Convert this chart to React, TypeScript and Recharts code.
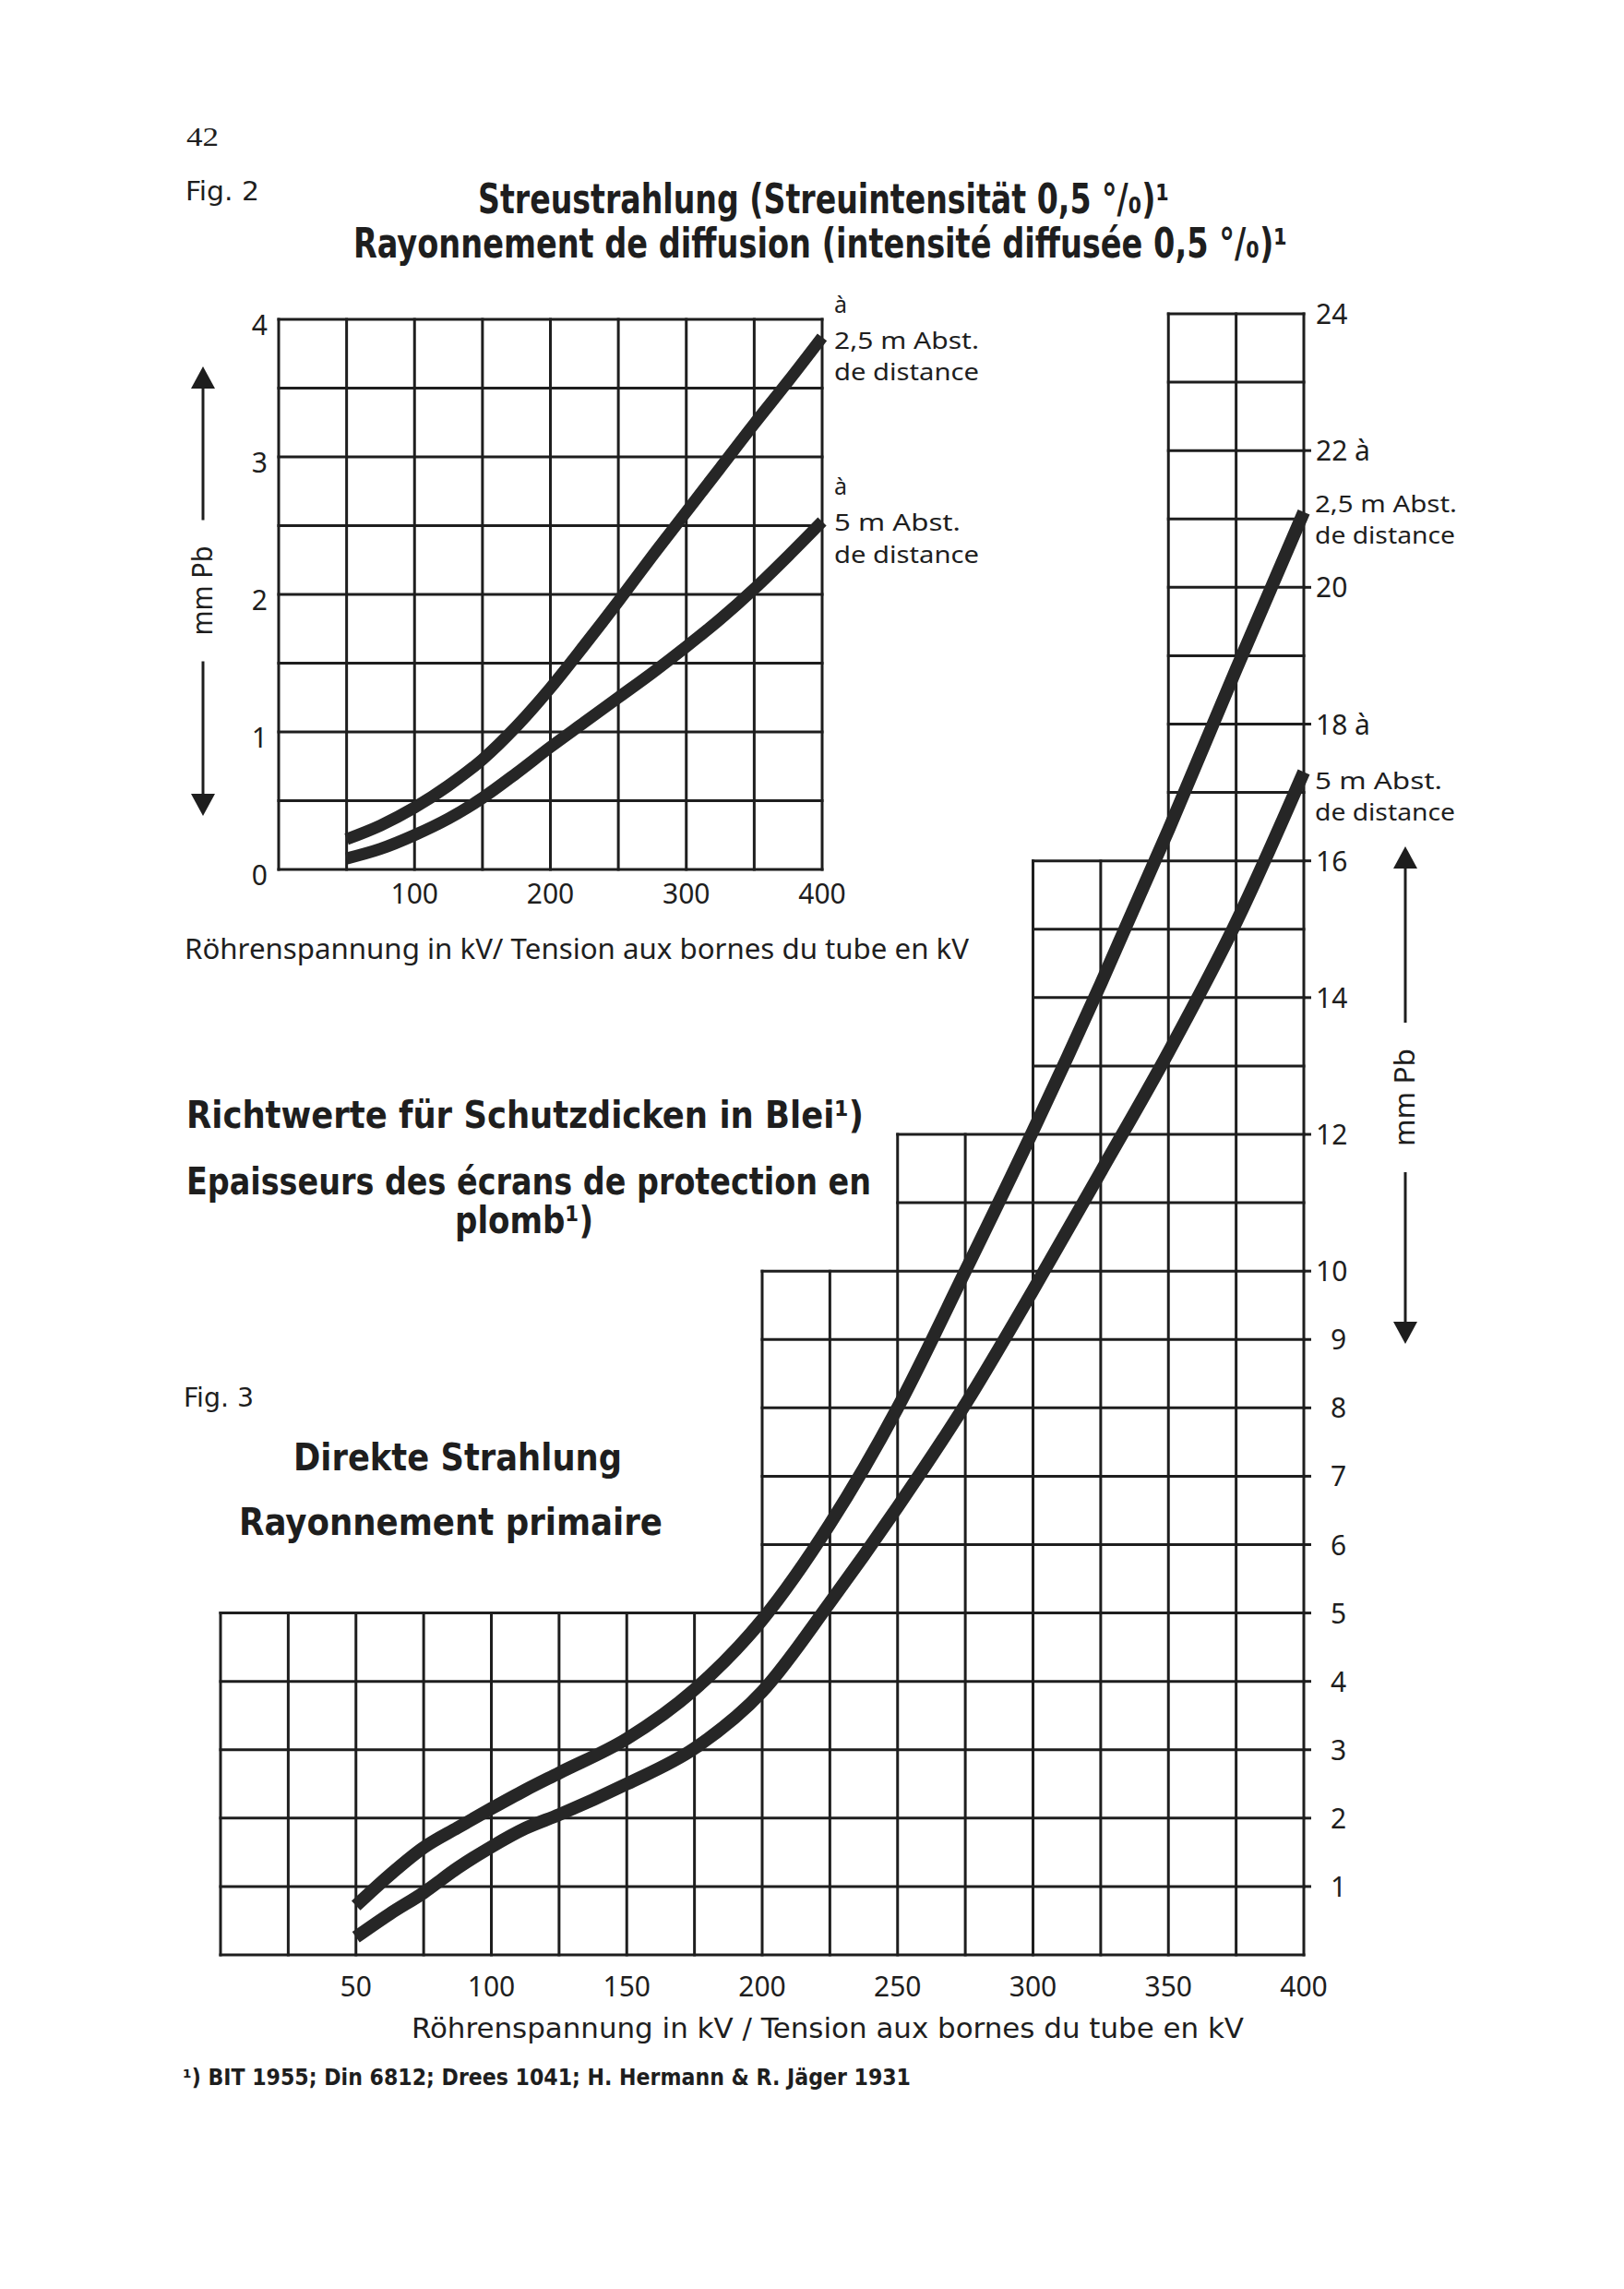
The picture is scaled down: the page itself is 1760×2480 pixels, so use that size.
import { Line, LineChart, ReferenceLine, XAxis, YAxis } from "recharts";

const INK = "#1e1e1e";
const CURVE = "#262626";
const SANS = "'Noto Sans', 'DejaVu Sans', sans-serif";
const HEAD = "'DejaVu Sans Condensed', 'Liberation Sans Narrow', 'DejaVu Sans', sans-serif";

// Fig. 2 – Streustrahlung (scattered radiation), mm Pb vs kV
const scatterKv = [50, 75, 100, 125, 150, 175, 200, 225, 250, 275, 300, 325, 350, 375, 400];
const scatterAt25m = [0.22, 0.32, 0.45, 0.61, 0.8, 1.04, 1.32, 1.63, 1.95, 2.28, 2.6, 2.92, 3.24, 3.55, 3.87];
const scatterAt5m = [0.08, 0.15, 0.25, 0.37, 0.52, 0.7, 0.89, 1.07, 1.25, 1.43, 1.62, 1.82, 2.04, 2.28, 2.53];
const scatterXTicks = [100, 200, 300, 400];
const scatterYTicks = [0, 1, 2, 3, 4];
const scatterGridX = [0, 50, 100, 150, 200, 250, 300, 350, 400];
const scatterGridY = [0, 0.5, 1, 1.5, 2, 2.5, 3, 3.5, 4];

// Fig. 3 – Direkte Strahlung (primary radiation)
const directKv = [50, 62.5, 75, 87.5, 100, 112.5, 125, 150, 175, 200, 225, 250, 275, 300, 325, 350, 375, 400];
const directAt25m = [0.72, 1.17, 1.57, 1.86, 2.14, 2.41, 2.66, 3.16, 3.88, 4.9, 6.3, 8.0, 10.0, 12.05, 14.2, 16.45, 18.8, 21.1];
const directAt5m = [0.26, 0.6, 0.91, 1.27, 1.58, 1.85, 2.05, 2.5, 3.02, 3.85, 5.15, 6.55, 8.05, 9.72, 11.45, 13.2, 15.1, 17.3];
const directXTicks = [50, 100, 150, 200, 250, 300, 350, 400];
const directYTicks = [1, 2, 3, 4, 5, 6, 7, 8, 9, 10, 12, 14, 16, 18, 20, 22, 24];
// the grid is stepped: from each kV value on, it reaches up to "top" mm Pb
const directSteps = [
  { from: 0, top: 5 },
  { from: 200, top: 10 },
  { from: 250, top: 12 },
  { from: 300, top: 16 },
  { from: 350, top: 24 },
];
const directGridX = Array.from({ length: 17 }, (_, i) => i * 25);
const directGridY = Array.from({ length: 25 }, (_, i) => i);

const scatterRows = scatterKv.map((kv, i) => ({ kv, at25m: scatterAt25m[i], at5m: scatterAt5m[i] }));
const directRows = directKv.map((kv, i) => ({ kv, at25m: directAt25m[i], at5m: directAt5m[i] }));

const stepTop = (x: number) => Math.max(...directSteps.filter((s) => s.from <= x).map((s) => s.top));
const stepLeft = (y: number) => Math.min(...directSteps.filter((s) => s.top >= y).map((s) => s.from));

const grid = { stroke: INK, strokeWidth: 3, strokeLinecap: "square" as const };

function ScatterXTick({ x, y, payload }: any) {
  return (
    <text x={x} y={y + 37} textAnchor="middle" fontFamily={SANS} fontSize={30} fill={INK}>
      {payload.value}
    </text>
  );
}

function ScatterYTick({ x, y, payload }: any) {
  return (
    <text x={x - 12} y={y + 17} textAnchor="end" fontFamily={SANS} fontSize={30} fill={INK}>
      {payload.value}
    </text>
  );
}

function DirectXTick({ x, y, payload }: any) {
  return (
    <text x={x} y={y + 45} textAnchor="middle" fontFamily={SANS} fontSize={30} fill={INK}>
      {payload.value}
    </text>
  );
}

function DirectYTick({ x, y, payload }: any) {
  const v = payload.value;
  const label = v === 22 || v === 18 ? `${v} à` : `${v}`;
  return (
    <g>
      {v !== 24 && <line x1={x} x2={x + 8} y1={y} y2={y} stroke={INK} strokeWidth={3} />}
      <text x={v >= 10 ? x + 13 : x + 29} y={y + 11} fontFamily={SANS} fontSize={30} fill={INK}>
        {label}
      </text>
    </g>
  );
}

function Txt({ x, y, size, w, bold, family, anchor, children }: any) {
  return (
    <text
      x={x}
      y={y}
      fontSize={size}
      fontWeight={bold ? 700 : 400}
      fontFamily={family || SANS}
      textAnchor={anchor || "start"}
      fill={INK}
      textLength={w}
      lengthAdjust={w ? "spacingAndGlyphs" : undefined}
    >
      {children}
    </text>
  );
}

function Arrow({ x, top, mid, bottom, label }: any) {
  return (
    <g fill={INK} stroke={INK}>
      <polygon points={`${x},${top} ${x - 13},${top + 24} ${x + 13},${top + 24}`} stroke="none" />
      <line x1={x} x2={x} y1={top + 24} y2={mid - label / 2 - 28} strokeWidth={3} />
      <text
        x={x + 10}
        y={mid}
        transform={`rotate(-90 ${x + 10} ${mid})`}
        textAnchor="middle"
        fontFamily={SANS}
        fontSize={30}
        stroke="none"
        textLength={label}
        lengthAdjust="spacingAndGlyphs"
      >
        mm Pb
      </text>
      <line x1={x} x2={x} y1={mid + label / 2 + 28} y2={bottom - 24} strokeWidth={3} />
      <polygon points={`${x},${bottom} ${x - 13},${bottom - 24} ${x + 13},${bottom - 24}`} stroke="none" />
    </g>
  );
}

export default function App() {
  return (
    <div style={{ position: "absolute", left: 0, top: 0, width: 1760, height: 2480, background: "#fff", overflow: "hidden" }}>
      {/* Fig. 3 */}
      <div style={{ position: "absolute", left: 160, top: 300 }}>
        <LineChart width={1363} height={1888} data={directRows} margin={{ top: 40, right: 0, bottom: 10, left: 79 }}>
          <XAxis
            type="number"
            dataKey="kv"
            domain={[0, 400]}
            ticks={directXTicks}
            axisLine={false}
            tickLine={false}
            tickSize={0}
            tickMargin={0}
            height={60}
            tick={<DirectXTick />}
          />
          <YAxis
            type="number"
            orientation="right"
            domain={[0, 24]}
            ticks={directYTicks}
            axisLine={false}
            tickLine={false}
            tickSize={0}
            tickMargin={0}
            width={110}
            interval={0}
            tick={<DirectYTick />}
          />
          {directGridX.map((x) => (
            <ReferenceLine key={`dx${x}`} segment={[{ x, y: 0 }, { x, y: stepTop(x) }]} {...grid} />
          ))}
          {directGridY.map((y) => (
            <ReferenceLine key={`dy${y}`} segment={[{ x: stepLeft(y), y }, { x: 400, y }]} {...grid} />
          ))}
          <Line type="monotone" dataKey="at25m" stroke={CURVE} strokeWidth={14} dot={false} activeDot={false} isAnimationActive={false} />
          <Line type="monotone" dataKey="at5m" stroke={CURVE} strokeWidth={14} dot={false} activeDot={false} isAnimationActive={false} />
        </LineChart>
      </div>

      {/* Fig. 2 */}
      <div style={{ position: "absolute", left: 180, top: 300 }}>
        <LineChart width={741} height={710} data={scatterRows} margin={{ top: 46, right: 30, bottom: 8, left: 0 }}>
          <XAxis
            type="number"
            dataKey="kv"
            domain={[0, 400]}
            ticks={scatterXTicks}
            axisLine={false}
            tickLine={false}
            tickSize={0}
            tickMargin={0}
            height={60}
            tick={<ScatterXTick />}
          />
          <YAxis
            type="number"
            domain={[0, 4]}
            ticks={scatterYTicks}
            axisLine={false}
            tickLine={false}
            tickSize={0}
            tickMargin={0}
            width={122}
            tick={<ScatterYTick />}
          />
          {scatterGridX.map((x) => (
            <ReferenceLine key={`sx${x}`} x={x} {...grid} />
          ))}
          {scatterGridY.map((y) => (
            <ReferenceLine key={`sy${y}`} y={y} {...grid} />
          ))}
          <Line type="monotone" dataKey="at25m" stroke={CURVE} strokeWidth={13} dot={false} activeDot={false} isAnimationActive={false} />
          <Line type="monotone" dataKey="at5m" stroke={CURVE} strokeWidth={13} dot={false} activeDot={false} isAnimationActive={false} />
        </LineChart>
      </div>

      <svg width={1760} height={2480} style={{ position: "absolute", left: 0, top: 0, pointerEvents: "none" }}>
        <Txt x={202} y={158} size={30} w={35} family="'Liberation Serif', 'DejaVu Serif', serif">42</Txt>
        <Txt x={201} y={217} size={28} w={80} family={HEAD}>Fig. 2</Txt>
        <Txt x={518} y={231} size={44} w={749} bold family={HEAD}>Streustrahlung (Streuintensität 0,5 °/₀)¹</Txt>
        <Txt x={383} y={279} size={44} w={1012} bold family={HEAD}>Rayonnement de diffusion (intensité diffusée 0,5 °/₀)¹</Txt>

        <Txt x={904} y={339} size={25}>à</Txt>
        <Txt x={904} y={378} size={25} w={157}>2,5 m Abst.</Txt>
        <Txt x={904} y={412} size={25} w={157}>de distance</Txt>
        <Txt x={904} y={536} size={25}>à</Txt>
        <Txt x={904} y={575} size={25} w={137}>5 m Abst.</Txt>
        <Txt x={904} y={610} size={25} w={157}>de distance</Txt>
        <Arrow x={220} top={397} mid={640} bottom={884} label={97} />
        <Txt x={200} y={1039} size={30} w={850}>Röhrenspannung in kV/ Tension aux bornes du tube en kV</Txt>

        <Txt x={202} y={1222} size={40} w={734} bold family={HEAD}>Richtwerte für Schutzdicken in Blei¹)</Txt>
        <Txt x={202} y={1294} size={40} w={742} bold family={HEAD}>Epaisseurs des écrans de protection en</Txt>
        <Txt x={493} y={1336} size={40} w={150} bold family={HEAD}>plomb¹)</Txt>
        <Txt x={199} y={1524} size={28} w={76} family={HEAD}>Fig. 3</Txt>
        <Txt x={318} y={1593} size={40} w={356} bold family={HEAD}>Direkte Strahlung</Txt>
        <Txt x={259} y={1663} size={40} w={459} bold family={HEAD}>Rayonnement primaire</Txt>

        <Txt x={1425} y={555} size={25} w={154}>2,5 m Abst.</Txt>
        <Txt x={1425} y={589} size={25} w={152}>de distance</Txt>
        <Txt x={1425} y={855} size={25} w={138}>5 m Abst.</Txt>
        <Txt x={1425} y={889} size={25} w={152}>de distance</Txt>
        <Arrow x={1523} top={917} mid={1189} bottom={1456} label={106} />

        <Txt x={446} y={2208} size={30} w={902} family={HEAD}>Röhrenspannung in kV / Tension aux bornes du tube en kV</Txt>
        <Txt x={198} y={2259} size={24} w={789} bold family={HEAD}>¹) BIT 1955; Din 6812; Drees 1041; H. Hermann &amp; R. Jäger 1931</Txt>
      </svg>
    </div>
  );
}
